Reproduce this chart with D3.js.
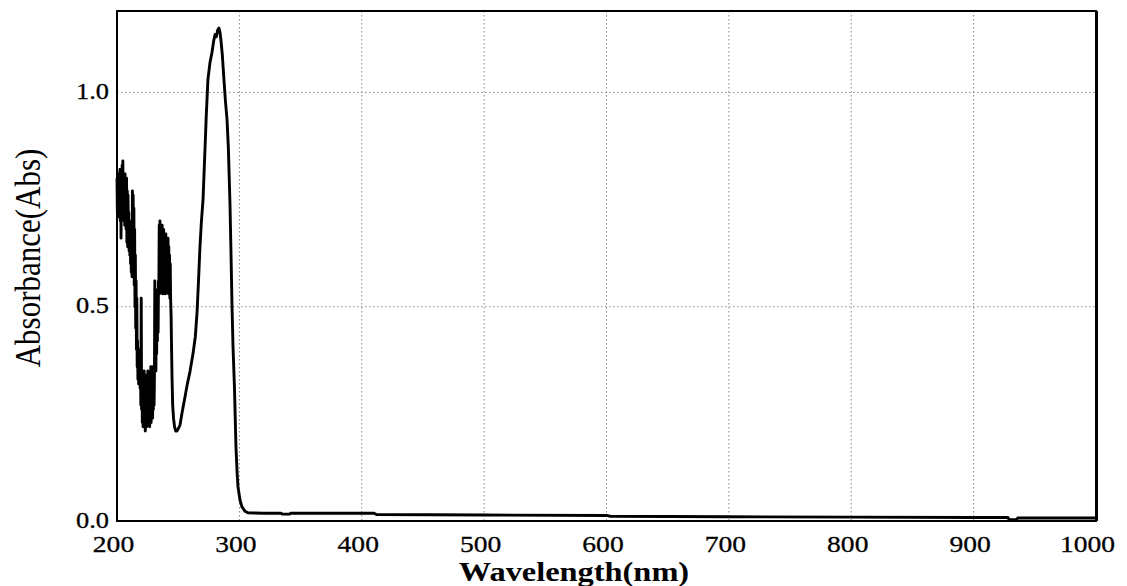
<!DOCTYPE html>
<html><head><meta charset="utf-8">
<script src="https://cdn.jsdelivr.net/npm/d3@7/dist/d3.min.js"></script>
<style>
body{margin:0;background:#fff;}
svg{display:block;}
text{font-family:"Liberation Serif","Times New Roman",serif;fill:#000;}
</style></head>
<body>
<svg id="chart" width="1127" height="586"></svg>
<script>
const wavelengths = [
200.0,200.3,200.6,200.9,201.2,201.5,201.8,202.1,202.4,202.7,203.0,203.3,203.6,203.9,204.2,204.5,204.8,205.1,205.4,205.7,
206.0,206.3,206.6,206.9,207.2,207.5,207.8,208.1,208.4,208.7,209.0,209.3,209.6,209.9,210.2,210.5,210.8,211.1,211.4,211.7,
212.0,212.3,212.6,212.9,213.2,213.5,213.8,214.1,214.4,214.7,215.0,215.3,215.6,215.9,216.2,216.5,216.8,217.1,217.4,217.7,
218.0,218.3,218.6,218.9,219.2,219.5,219.8,220.1,220.4,220.7,221.0,221.3,221.6,221.9,222.2,222.5,222.8,223.1,223.4,223.7,
224.0,224.3,224.6,224.9,225.2,225.5,225.8,226.1,226.4,226.7,227.0,227.3,227.6,227.9,228.2,228.5,228.8,229.1,229.4,229.7,
230.0,230.3,230.6,230.9,231.2,231.5,231.8,232.1,232.4,232.7,233.0,233.3,233.6,233.9,234.2,234.5,234.8,235.1,235.4,235.7,
236.0,236.3,236.6,236.9,237.2,237.5,237.8,238.1,238.4,238.7,239.0,239.3,239.6,239.9,240.2,240.5,240.8,241.1,241.4,241.7,
242.0,242.3,242.6,242.9,243.2,243.5,243.8,
244.2,244.6,245.0,245.5,246.2,247.0,248.0,249.0,250.0,251.5,253.0,255.6,257.5,259.6,262.1,264.0,265.4,266.6,267.8,269.0,
270.3,271.9,273.0,274.3,276.0,277.6,279.0,280.1,281.2,282.2,283.3,284.2,285.0,286.0,287.4,288.6,289.9,291.0,292.3,293.1,
294.0,294.8,296.0,297.2,298.2,298.9,300.5,302.1,304.6,307.0,320,334,335,341,342,410,412,500,600,603,
700,800,900,928,929,935,936,1000];
const absorbance = [
0.80,0.72,0.81,0.74,0.80,0.71,0.79,0.73,0.82,0.70,0.78,0.66,0.80,0.72,0.83,0.74,0.84,0.73,0.80,0.70,
0.79,0.69,0.81,0.72,0.78,0.68,0.80,0.65,0.77,0.64,0.76,0.66,0.72,0.63,0.70,0.62,0.69,0.60,0.66,0.58,
0.64,0.57,0.77,0.62,0.76,0.58,0.73,0.55,0.68,0.50,0.62,0.45,0.56,0.40,0.52,0.36,0.42,0.33,0.38,0.32,
0.37,0.33,0.40,0.31,0.36,0.27,0.52,0.26,0.34,0.23,0.32,0.22,0.30,0.25,0.35,0.23,0.33,0.21,0.30,0.24,
0.34,0.22,0.33,0.25,0.35,0.23,0.32,0.24,0.34,0.22,0.33,0.24,0.36,0.23,0.34,0.25,0.35,0.24,0.36,0.26,
0.35,0.27,0.34,0.56,0.36,0.50,0.35,0.52,0.39,0.51,0.42,0.54,0.44,0.56,0.53,0.69,0.53,0.70,0.54,0.69,
0.55,0.68,0.54,0.69,0.53,0.68,0.56,0.68,0.53,0.67,0.55,0.66,0.53,0.67,0.56,0.66,0.54,0.65,0.55,0.66,
0.53,0.64,0.55,0.62,0.52,0.60,0.52,
0.48,0.40,0.33,0.27,0.24,0.22,0.21,0.21,0.215,0.224,0.25,0.29,0.32,0.348,0.39,0.43,0.486,0.56,0.64,0.70,
0.75,0.867,0.95,1.03,1.07,1.093,1.12,1.135,1.13,1.145,1.15,1.14,1.12,1.09,1.03,0.98,0.937,0.87,0.743,0.633,
0.50,0.407,0.31,0.173,0.11,0.079,0.049,0.033,0.023,0.019,0.018,0.018,0.016,0.016,0.018,0.018,0.015,0.014,0.013,0.011,
0.010,0.009,0.008,0.008,0.003,0.003,0.007,0.007];

const xTicks = [200,300,400,500,600,700,800,900,1000];
const yTicks = [0.0,0.5,1.0];
const xGrid = [300,400,500,600,700,800,900];
const yGrid = [0.5,1.0];
const xTitle = "Wavelength(nm)";
const yTitle = "Absorbance(Abs)";

const svg = d3.select("#chart");
const L = 117, R = 1096, T = 11, B = 521;
const x = d3.scaleLinear().domain([200,1000]).range([L,R]);
const y = d3.scaleLinear().domain([0,1.19]).range([B,T]);
const SX = 1.15;

// grid
svg.append("g").selectAll("line").data(xGrid).join("line")
  .attr("x1",d=>x(d)).attr("x2",d=>x(d)).attr("y1",T).attr("y2",B)
  .attr("stroke","#8a8a8a").attr("stroke-width",1).attr("stroke-dasharray","1.5,2.5");
svg.append("g").selectAll("line").data(yGrid).join("line")
  .attr("x1",L).attr("x2",R).attr("y1",d=>y(d)).attr("y2",d=>y(d))
  .attr("stroke","#8a8a8a").attr("stroke-width",1).attr("stroke-dasharray","1.5,2.5");

// curve
const pts = wavelengths.map((w,i)=>[w,absorbance[i]]);
svg.append("path").datum(pts)
  .attr("fill","none").attr("stroke","#000").attr("stroke-width",2.9)
  .attr("stroke-linejoin","round")
  .attr("d", d3.line().x(d=>x(d[0])).y(d=>y(d[1])));

// frame
svg.append("rect").attr("x",L).attr("y",T).attr("width",R-L).attr("height",B-T)
  .attr("fill","none").attr("stroke","#000").attr("stroke-width",2);
svg.append("line").attr("x1",R+1).attr("x2",R+1).attr("y1",T).attr("y2",B)
  .attr("stroke","#000").attr("stroke-width",2);

// x axis
const gx = svg.append("g").attr("transform",`translate(0,${B})`)
  .call(d3.axisBottom(x).tickValues(xTicks).tickSize(0).tickPadding(0).tickFormat(d3.format("d")));
gx.select(".domain").remove();
gx.selectAll("text").attr("y",0).attr("dy",0)
  .attr("transform",d=>`translate(${d===1000?-9:-4},31) scale(${SX},1)`)
  .style("font-size","24px").style("font-family",'"Liberation Serif",serif')
  .style("stroke","#000").style("stroke-width","0.3px").attr("fill","#000");

// y axis
const gy = svg.append("g").attr("transform",`translate(${L},0)`)
  .call(d3.axisLeft(y).tickValues(yTicks).tickSize(0).tickPadding(0).tickFormat(d3.format(".1f")));
gy.select(".domain").remove();
gy.selectAll("text").attr("x",0).attr("dy",0)
  .attr("transform",`translate(-8,6) scale(${SX},1)`)
  .style("font-size","23px").style("font-family",'"Liberation Serif",serif')
  .style("stroke","#000").style("stroke-width","0.3px").attr("fill","#000");

// titles
svg.append("text").attr("transform",`translate(574,581) scale(1.2,1)`)
  .attr("text-anchor","middle").style("font-size","27px").style("font-weight","bold").text(xTitle);
svg.append("text").attr("transform",`translate(40,258) scale(${SX},1) rotate(-90)`)
  .attr("text-anchor","middle").style("font-size","31px").text(yTitle);
</script>
</body></html>
